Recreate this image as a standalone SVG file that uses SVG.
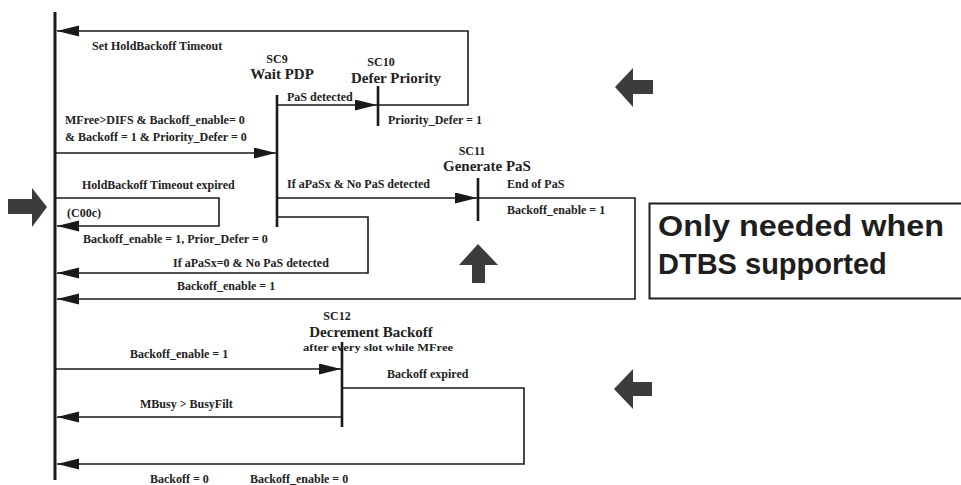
<svg xmlns="http://www.w3.org/2000/svg" width="961" height="485" viewBox="0 0 961 485">
  <defs>
    <style>
      .ln { fill: none; stroke: #1a1a1a; stroke-width: 1.6; }
      .bar { stroke: #1a1a1a; stroke-width: 2.6; }
      .main { stroke: #1a1a1a; stroke-width: 3; }
      .lbl { font-family: "Liberation Serif", "Times New Roman", serif; font-weight: bold; font-size: 12px; fill: #222; }
      .sm { font-family: "Liberation Serif", "Times New Roman", serif; font-weight: bold; font-size: 11px; fill: #222; }
      .sc { font-family: "Liberation Serif", "Times New Roman", serif; font-weight: bold; font-size: 12px; fill: #222; }
      .st { font-family: "Liberation Serif", "Times New Roman", serif; font-weight: bold; font-size: 15px; fill: #222; }
      .blk { fill: #3c3c3c; }
      .note { font-family: "Liberation Sans", Arial, sans-serif; font-weight: bold; font-size: 29px; fill: #1e1e1e; }
    </style>
    <marker id="ah" markerUnits="userSpaceOnUse" markerWidth="23" markerHeight="12" refX="22" refY="5.5" orient="auto">
      <path d="M0,0 L22,5.5 L0,11 z" fill="#1a1a1a"/>
    </marker>
  </defs>

  <rect width="961" height="485" fill="#ffffff"/>

  <g id="main-line">
    <line class="main" x1="55" y1="12" x2="55" y2="480"/>
  </g>

  <g id="SC9">
    <line class="bar" x1="277" y1="95" x2="277" y2="227"/>
    <text class="sc" x="277" y="63" text-anchor="middle">SC9</text>
    <text class="st" x="282" y="79" text-anchor="middle">Wait PDP</text>
  </g>

  <g id="SC10">
    <line class="bar" x1="378" y1="86" x2="378" y2="126"/>
    <text class="sc" x="381" y="66" text-anchor="middle">SC10</text>
    <text class="st" x="396" y="83" text-anchor="middle">Defer Priority</text>
  </g>

  <g id="SC11">
    <line class="bar" x1="478" y1="178" x2="478" y2="221"/>
    <text class="sc" x="472" y="155" text-anchor="middle" font-weight="normal">SC11</text>
    <text class="st" x="487" y="171" text-anchor="middle">Generate PaS</text>
  </g>

  <g id="SC12">
    <line class="bar" x1="342" y1="342" x2="342" y2="427"/>
    <text class="sc" x="337" y="320" text-anchor="middle" font-size="13">SC12</text>
    <text class="st" x="371" y="337" text-anchor="middle">Decrement Backoff</text>
    <text class="sm" x="378" y="351" text-anchor="middle" textLength="150" lengthAdjust="spacingAndGlyphs">after every slot while MFree</text>
  </g>

  <g id="connectors">
    <polyline class="ln" points="378,105 468,105 468,31 57,31" marker-end="url(#ah)"/>
    <line class="ln" x1="277" y1="105" x2="377" y2="105" marker-end="url(#ah)"/>
    <line class="ln" x1="55" y1="153" x2="276" y2="153" marker-end="url(#ah)"/>
    <polyline class="ln" points="55,198 219,198 219,226 57,226" marker-end="url(#ah)"/>
    <polyline class="ln" points="277,217 368,217 368,273 57,273" marker-end="url(#ah)"/>
    <line class="ln" x1="277" y1="198" x2="477" y2="198" marker-end="url(#ah)"/>
    <polyline class="ln" points="478,198 635,198 635,299 57,299" marker-end="url(#ah)"/>
    <line class="ln" x1="55" y1="369" x2="341" y2="369" marker-end="url(#ah)"/>
    <polyline class="ln" points="342,388 524,388 524,464 57,464" marker-end="url(#ah)"/>
    <line class="ln" x1="342" y1="417" x2="57" y2="417" marker-end="url(#ah)"/>
  </g>

  <g id="connector-labels">
    <text class="lbl" x="92" y="50">Set HoldBackoff Timeout</text>
    <text class="lbl" x="287" y="101">PaS detected</text>
    <text class="lbl" x="388" y="124">Priority_Defer = 1</text>
    <text class="lbl" x="65" y="124">MFree&gt;DIFS &amp; Backoff_enable= 0</text>
    <text class="lbl" x="65" y="141">&amp; Backoff = 1 &amp; Priority_Defer = 0</text>
    <text class="lbl" x="82" y="189">HoldBackoff Timeout expired</text>
    <text class="lbl" x="67" y="217">(C00c)</text>
    <text class="lbl" x="83" y="243">Backoff_enable = 1, Prior_Defer = 0</text>
    <text class="lbl" x="173" y="267">If aPaSx=0 &amp; No PaS detected</text>
    <text class="lbl" x="177" y="290">Backoff_enable = 1</text>
    <text class="lbl" x="287" y="188">If aPaSx &amp; No PaS detected</text>
    <text class="lbl" x="507" y="188">End of PaS</text>
    <text class="lbl" x="507" y="214" font-weight="normal">Backoff_enable = 1</text>
    <text class="lbl" x="130" y="358">Backoff_enable = 1</text>
    <text class="lbl" x="387" y="378">Backoff expired</text>
    <text class="lbl" x="140" y="408">MBusy &gt; BusyFilt</text>
    <text class="lbl" x="150" y="483">Backoff = 0</text>
    <text class="lbl" x="250" y="483">Backoff_enable = 0</text>
  </g>

  <g id="highlight-arrows">
    <polygon class="blk" points="615,87 633,68 633,80 653,80 653,94 633,94 633,107"/>
    <polygon class="blk" points="614,389 633,369 633,382 652,382 652,396 633,396 633,409"/>
    <polygon class="blk" points="47,207 32,188 32,199 8,199 8,214 32,214 32,227"/>
    <polygon class="blk" points="478,244 459,265 472,265 472,283 485,283 485,265 498,265"/>
  </g>

  <g id="note">
    <rect x="649.5" y="203.5" width="330" height="95" fill="#ffffff" stroke="#1e1e1e" stroke-width="2"/>
    <text class="note" x="658" y="236" textLength="286" lengthAdjust="spacingAndGlyphs">Only needed when</text>
    <text class="note" x="658" y="274">DTBS supported</text>
  </g>
</svg>
